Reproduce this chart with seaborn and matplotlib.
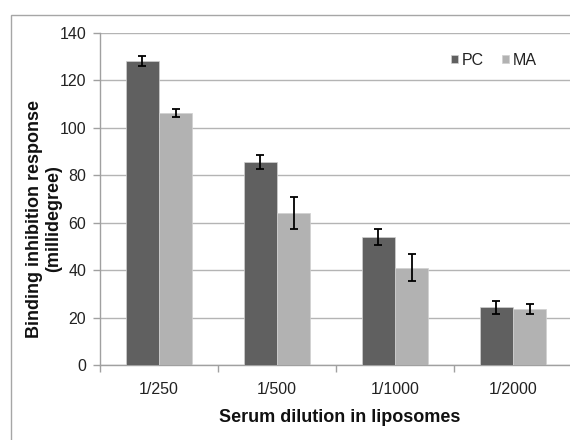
import matplotlib
matplotlib.use("Agg")
import matplotlib.pyplot as plt
import seaborn as sns
import pandas as pd
import numpy as np
from matplotlib.patches import Rectangle

categories = ["1/250", "1/500", "1/1000", "1/2000"]
series = ["PC", "MA"]
pc_values = [128.3, 85.7, 54.1, 24.3]
ma_values = [106.2, 64.2, 41.0, 23.6]
pc_errors = [2.1, 2.9, 3.3, 2.7]
ma_errors = [1.8, 6.7, 5.7, 2.0]
y_ticks = [0, 20, 40, 60, 80, 100, 120, 140]

sns.set_theme(style="white")
plt.rcParams['font.family'] = ['Liberation Sans', 'DejaVu Sans']

df = pd.DataFrame({
    "dilution": categories * 2,
    "series": [series[0]] * len(categories) + [series[1]] * len(categories),
    "value": pc_values + ma_values,
})
errs = {"PC": pc_errors, "MA": ma_errors}

W, H = 570, 440
fig = plt.figure(figsize=(W / 100, H / 100), dpi=100)
ax = fig.add_axes([100 / W, (H - 365) / H, 472 / W, 332 / H])

palette = {"PC": "#606060", "MA": "#b2b2b2"}
sns.barplot(data=df, x="dilution", y="value", hue="series", order=categories,
            hue_order=series, palette=palette, width=0.565, errorbar=None,
            saturation=1, edgecolor="#d0d0d0", linewidth=0.5, ax=ax, zorder=3)

for cont, name in zip(ax.containers, series):
    xs = [b.get_x() + b.get_width() / 2 for b in cont]
    hs = [b.get_height() for b in cont]
    ax.errorbar(xs, hs, yerr=errs[name], fmt="none", ecolor="black",
                elinewidth=1.3, capsize=3, capthick=1.3, zorder=4)

ax.set_xlim(-0.5, len(categories) - 0.5)
ax.set_ylim(0, 140)
ax.set_yticks(y_ticks)
ax.set_yticklabels([str(t) for t in y_ticks], fontsize=11.5, color="#222222")
ax.yaxis.grid(True, color="#b4b4b4", linewidth=1.0, zorder=0)
ax.set_axisbelow(True)
ax.tick_params(axis="y", left=True, length=5, width=1, color="#a0a0a0", pad=5)
ax.tick_params(axis="x", which="major", bottom=False, length=0, pad=12,
               labelsize=11.5, labelcolor="#222222")
ax.set_xticks(np.arange(-0.5, len(categories), 1.0), minor=True)
ax.tick_params(axis="x", which="minor", bottom=True, length=5, width=1, color="#a0a0a0")
for s in ["top", "right"]:
    ax.spines[s].set_visible(False)
for s in ["left", "bottom"]:
    ax.spines[s].set_color("#a0a0a0")
    ax.spines[s].set_linewidth(1.0)
ax.set_xlabel("")
ax.set_ylabel("")

leg = ax.legend(loc="center", bbox_to_anchor=((494 - 100) / 472, (365 - 60) / 332),
                ncol=2, frameon=False, fontsize=11.5, handlelength=0.45,
                handleheight=0.45, handletextpad=0.25, columnspacing=1.1,
                borderaxespad=0, borderpad=0)
for t in leg.get_texts():
    t.set_color("#222222")

fig.text(44 / W, 1 - 219 / H, "Binding inhibition response\n(millidegree)",
         rotation=90, ha="center", va="center", multialignment="center",
         fontsize=13, fontweight="bold", color="#111111", linespacing=1.15)
fig.text(340 / W, 1 - 417 / H, "Serum dilution in liposomes", ha="center",
         va="center", fontsize=13, fontweight="bold", color="#111111")

fig.patches.append(Rectangle((11 / W, -0.1), 1.2, (H - 15) / H + 0.1,
                             transform=fig.transFigure, fill=False,
                             edgecolor="#a6a6a6", linewidth=1.0))

fig.savefig("out.png", dpi=100)
